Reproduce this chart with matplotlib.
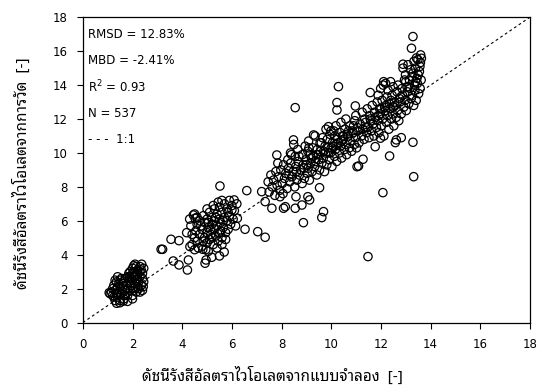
import matplotlib
matplotlib.use("Agg")
import matplotlib.pyplot as plt

matplotlib.rcParams['font.family'] = ["DejaVu Sans"]
THAI = ["Noto Sans Thai Looped", "Noto Sans Thai", "DejaVu Sans"]

# %% statistics shown in the box
rmsd = 12.83
mbd = -2.41
r2 = 0.93
n = 537

# %% modelled (x) vs measured (y) UV index, read off the figure
# cluster around UVI 1-2.5
x_low = [1.2, 1.3, 1.25, 1.35, 1.4, 1.45, 1.5, 1.5, 1.55, 1.6, 1.6, 1.65, 1.7, 1.7, 1.75, 1.8, 1.8,
         1.3, 1.4, 1.2, 1.15, 1.5, 1.55, 1.6, 1.45, 1.35, 1.65, 1.7, 1.1, 1.3, 1.25, 1.4,
         1.36, 1.49, 1.63, 1.06, 1.8, 2.0,
         1.85, 1.9, 1.9, 1.95, 2.0, 2.0, 2.0, 2.05, 2.1, 2.1, 2.1, 2.1, 2.15, 2.2, 2.2, 2.2, 2.25,
         2.3, 2.3, 2.3, 2.37, 2.35, 2.4, 2.43, 2.4, 2.0, 1.95, 2.15, 2.25, 2.3, 1.85, 2.05, 2.2,
         2.35, 1.9, 2.05, 2.45, 2.45, 1.8, 2.15, 2.4, 2.0]
y_low = [1.6, 1.9, 2.2, 2.4, 1.5, 1.8, 2.1, 2.5, 1.7, 2.0, 2.3, 1.4, 1.9, 2.6, 2.2, 1.6, 2.0,
         1.3, 2.1, 2.0, 1.8, 1.3, 2.6, 1.8, 2.3, 1.7, 2.4, 1.6, 1.7, 2.5, 1.5, 2.7,
         1.14, 1.17, 1.27, 1.76, 1.25, 1.4,
         2.4, 2.7, 3.0, 2.2, 2.5, 2.9, 3.2, 1.9, 2.3, 2.7, 3.0, 3.44, 2.5, 2.1, 2.8, 3.1, 2.4,
         2.7, 3.0, 3.3, 3.44, 2.2, 2.6, 2.12, 2.9, 2.0, 2.6, 3.3, 2.0, 1.8, 2.9, 2.75, 2.6,
         3.1, 1.9, 3.35, 2.4, 3.2, 2.7, 1.8, 1.9, 1.6]

# cluster around UVI 4-6
x_mid = [4.4, 4.5, 4.55, 4.6, 4.6, 4.7, 4.7, 4.8, 4.8, 4.85, 4.9, 4.9, 5.0, 5.0, 5.0, 5.05, 5.1,
         5.1, 5.15, 5.2, 5.2, 5.25, 5.3, 5.3, 5.3, 5.35, 5.4, 5.4, 5.45, 5.5, 5.5, 5.5, 5.55, 5.6,
         5.6, 5.65, 5.7, 5.7, 5.75, 5.8, 5.8, 5.85, 5.9, 5.9, 5.95, 6.0, 6.05, 6.1, 6.15, 6.2,
         4.5, 4.65, 4.75, 4.95, 5.05, 5.2, 5.4, 5.6, 5.75, 5.25, 5.45, 5.6, 5.0, 4.4, 4.35, 5.15,
         5.35, 5.55, 5.65, 5.85, 5.05, 4.85, 4.6, 4.3, 4.5,
         5.52, 6.6, 3.55, 3.21, 3.15, 3.87, 3.64, 3.87, 4.21, 4.25, 4.18, 4.92, 4.96, 5.19, 5.5,
         5.69, 4.83, 4.31, 4.45, 4.52, 6.53, 7.04, 7.34, 6.09, 6.22, 6.0]
y_mid = [4.6, 5.0, 5.4, 4.8, 5.8, 5.2, 6.0, 4.5, 5.5, 6.3, 5.0, 5.9, 4.7, 5.3, 6.1, 5.6, 4.9,
         6.5, 5.2, 5.8, 6.2, 4.6, 5.5, 6.0, 6.7, 5.1, 5.7, 6.4, 4.8, 5.3, 6.1, 6.8, 5.9, 5.0,
         6.5, 5.6, 6.2, 7.0, 5.3, 6.0, 6.7, 5.5, 6.3, 7.2, 5.8, 6.9, 6.1, 6.6, 5.7, 7.0,
         4.3, 4.4, 5.7, 4.3, 4.2, 5.0, 4.4, 4.6, 4.9, 6.9, 7.1, 7.2, 6.7, 5.2, 5.7, 5.5,
         6.2, 5.4, 6.0, 6.5, 5.9, 4.8, 6.2, 6.1, 6.4,
         8.05, 7.78, 4.91, 4.32, 4.32, 4.83, 3.63, 3.40, 3.10, 3.69, 5.30, 3.50, 3.69, 3.85, 3.93,
         4.16, 4.32, 4.48, 6.34, 6.15, 5.50, 5.36, 5.03, 7.23, 6.15, 6.64]

# cluster around UVI 7.5-11
x_high = [7.5, 7.46, 7.62, 7.57, 7.73, 7.68, 7.82, 7.77, 7.85, 7.93, 7.88, 8.03, 7.97, 8.06, 8.12, 8.08,
          8.22, 8.17, 8.25, 8.33, 8.28, 8.36, 8.42, 8.37, 8.53, 8.47, 8.55, 8.49, 8.62, 8.57, 8.65, 8.72, 8.67,
          8.83, 8.78, 8.84, 8.92, 8.87, 8.95, 9.03, 8.98, 9.06, 9.12, 9.07, 9.15, 9.09, 9.23, 9.18, 9.26,
          9.33, 9.27, 9.35, 9.42, 9.37, 9.44, 9.53, 9.48, 9.55, 9.62, 9.57, 9.65, 9.73, 9.68, 9.75,
          9.82, 9.77, 9.84, 9.79, 9.93, 9.87, 9.95, 10.03, 9.97, 10.05, 9.99, 10.13, 10.08, 10.15,
          10.22, 10.17, 10.25, 10.19, 10.33, 10.28, 10.35, 10.42, 10.37, 10.45, 10.39, 10.53, 10.48, 10.55,
          10.62, 10.57, 10.65, 10.59, 10.73, 10.68, 10.75, 10.82, 10.77, 10.85, 10.93, 10.88, 10.95,
          11.02, 10.97, 11.05, 10.99,
          8.3, 8.6, 8.9, 9.0, 9.2, 9.4, 9.5, 9.7, 9.9, 10.0, 10.2, 10.4, 10.5, 10.7, 8.7, 9.1,
          9.6, 10.1, 8.4, 10.9,
          8.88, 9.62, 9.69, 9.53, 9.13, 9.06, 8.82, 8.58, 8.55, 8.15, 8.08, 7.61, 7.94, 7.34,
          7.2, 7.81, 8.48, 9.29, 9.89, 11.04]
y_high = [7.7, 8.3, 8.0, 8.7, 7.5, 8.4, 8.1, 8.9, 9.4, 7.8, 8.6, 8.2, 9.0, 7.6, 8.5, 9.3,
          7.9, 8.8, 9.6, 8.3, 9.1, 10.0, 8.6, 9.4, 8.0, 8.9, 9.8, 10.5, 8.4, 9.2, 10.2, 8.7, 9.5,
          8.2, 9.0, 9.9, 8.5, 9.3, 10.4, 8.8, 9.6, 10.1, 8.4, 9.1, 9.9, 10.7, 8.9, 9.4, 10.3,
          9.2, 9.8, 11.0, 8.7, 9.5, 10.2, 9.0, 9.9, 10.6, 9.4, 10.1, 10.9, 8.9, 9.7, 10.4,
          9.3, 10.0, 10.8, 11.4, 9.6, 10.3, 11.1, 9.2, 10.0, 10.6, 11.3, 9.8, 10.4, 11.0,
          9.5, 10.2, 10.8, 11.6, 10.0, 10.6, 11.2, 9.7, 10.4, 11.0, 11.8, 10.2, 10.8, 11.4,
          9.9, 10.5, 11.1, 12.0, 10.3, 11.0, 11.6, 10.1, 10.7, 11.3, 10.5, 11.2, 11.9,
          10.3, 10.9, 11.5, 12.2,
          8.7, 8.9, 9.1, 9.3, 9.7, 9.9, 9.6, 10.1, 10.0, 10.3, 10.5, 10.7, 11.0, 11.3, 9.8, 10.3,
          10.6, 11.3, 9.9, 11.6,
          5.89, 6.19, 6.54, 7.95, 7.23, 7.42, 6.93, 7.42, 6.74, 6.83, 6.74, 6.74, 7.42, 7.13,
          7.72, 9.88, 10.77, 11.06, 11.55, 9.19]

# cluster around UVI 11-13.7
x_top = [11.12, 11.07, 11.22, 11.17, 11.25, 11.32, 11.27, 11.35, 11.42, 11.38, 11.45, 11.52, 11.47, 11.55,
         11.62, 11.57, 11.65, 11.72, 11.68, 11.75, 11.82, 11.77, 11.85, 11.92, 11.87, 11.95, 11.89,
         12.02, 11.97, 12.05, 11.99, 12.12, 12.07, 12.15, 12.09, 12.22, 12.17, 12.25, 12.19,
         12.32, 12.27, 12.35, 12.29, 12.42, 12.37, 12.45, 12.39, 12.52, 12.47, 12.55, 12.49,
         12.62, 12.57, 12.65, 12.72, 12.67, 12.75, 12.69, 12.82, 12.77, 12.85, 12.92, 12.87, 12.95, 12.89,
         13.02, 12.97, 13.05, 12.99, 13.12, 13.07, 13.15, 13.09, 13.22, 13.17, 13.25, 13.19,
         13.32, 13.27, 13.35, 13.29, 13.33, 13.42, 13.37, 13.45, 13.39, 13.43, 13.52, 13.47, 13.55, 13.49,
         13.58, 13.62, 13.57, 13.6, 13.63,
         11.6, 11.9, 12.2, 12.5, 12.8, 13.1, 13.4, 12.0, 12.4, 11.4, 13.0, 13.5,
         10.29, 10.23, 10.23, 10.97, 8.55, 11.57, 12.11, 12.89, 13.29, 13.23, 13.59, 12.08,
         13.32, 12.35, 13.29, 12.62, 12.58, 12.82, 11.77, 11.98, 11.1, 11.28, 11.48]
y_top = [10.6, 11.3, 11.0, 11.7, 12.4, 10.8, 11.4, 12.0, 11.2, 11.8, 12.6, 10.9, 11.5, 12.2,
         11.3, 12.0, 12.8, 11.0, 11.7, 12.4, 11.5, 12.1, 13.0, 11.2, 11.9, 12.6, 13.4,
         11.6, 12.3, 13.1, 13.8, 11.0, 12.0, 12.7, 14.0, 11.8, 12.5, 13.3, 14.1,
         11.4, 12.2, 12.9, 13.7, 12.0, 12.6, 13.4, 14.2, 11.6, 12.3, 13.0, 13.9,
         12.1, 12.8, 13.6, 11.9, 12.5, 13.2, 14.0, 12.3, 13.0, 13.8, 12.7, 13.4, 14.3, 15.0,
         12.5, 13.1, 13.9, 14.6, 12.9, 13.6, 14.3, 15.2, 13.2, 13.8, 14.5, 14.9,
         12.8, 13.4, 14.0, 14.7, 15.4, 13.1, 13.7, 14.4, 15.0, 15.6, 13.5, 14.1, 14.8, 15.5,
         13.8, 14.3, 15.1, 15.78, 15.58,
         11.9, 12.2, 12.8, 12.7, 13.3, 13.9, 14.2, 12.6, 13.1, 11.5, 14.2, 14.6,
         13.91, 12.97, 12.53, 12.77, 12.67, 13.56, 14.2, 15.23, 16.86, 16.17, 15.33, 7.66,
         8.6, 9.82, 10.63, 10.77, 10.61, 10.9, 10.37, 10.87, 9.23, 9.63, 3.89]

x_all = x_low + x_mid + x_high + x_top
y_all = y_low + y_mid + y_high + y_top

# %%
fig = plt.figure(figsize=(5.38, 3.88), dpi=100)
ax = fig.add_axes([0.154, 0.1686, 0.831, 0.787])

ax.plot([0, 18], [0, 18], color="black", lw=0.8, ls=(0, (2.5, 2.5)), zorder=1)
ax.scatter(x_all, y_all, s=36, facecolors="none", edgecolors="black", linewidths=0.9, zorder=2)

ax.set_xlim(0, 18)
ax.set_ylim(0, 18)
ax.set_xticks(range(0, 19, 2))
ax.set_yticks(range(0, 19, 2))
ax.tick_params(axis="both", direction="out", length=4, width=0.8, labelsize=8.5, pad=7,
               right=False, top=False)
for sp in ax.spines.values():
    sp.set_linewidth(0.9)

ax.set_xlabel("ดัชนีรังสีอัลตราไวโอเลตจากแบบจำลอง  [-]", family=THAI, fontsize=11)
ax.xaxis.set_label_coords(0.423, -0.145)
ax.set_ylabel("ดัชนีรังสีอัลตราไวโอเลตจากการวัด  [-]", family=THAI, fontsize=11)
ax.yaxis.set_label_coords(-0.116, 0.49)

stats = [f"RMSD = {rmsd:.2f}%", f"MBD = {mbd:.2f}%", f"R$^2$ = {r2:.2f}", f"N = {n}", "- - -  1:1"]
for i, s in enumerate(stats):
    ax.text(0.2, 17.0 - i * 1.55, s, fontsize=8.5, va="center", ha="left")

fig.savefig("out.png", dpi=100)
